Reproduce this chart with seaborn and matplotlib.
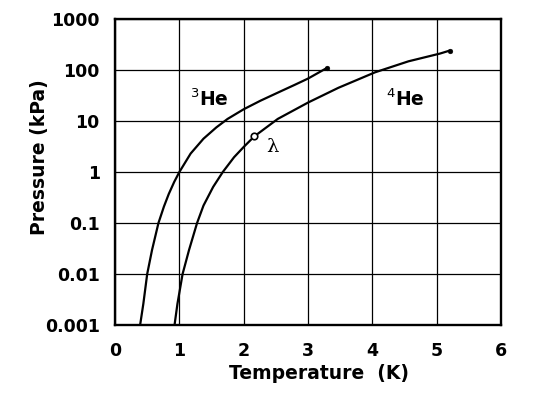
import pandas as pd
import seaborn as sns
import matplotlib.pyplot as plt

# vapour pressure curves (T in K, P in kPa)
he3_temp = [0.39, 0.44, 0.50, 0.575, 0.675, 0.76, 0.835, 0.92, 1.00, 1.175, 1.375, 1.575,
            1.75, 2.00, 2.26, 2.53, 2.79, 3.00, 3.30]
he3_press = [0.001, 0.0026, 0.01, 0.0295, 0.1, 0.21, 0.37, 0.64, 1.0, 2.3, 4.5, 7.5,
             11, 17, 25, 36, 51, 68, 111]

he4_temp = [0.925, 0.97, 1.05, 1.15, 1.275, 1.375, 1.525, 1.675, 1.85, 2.00, 2.165,
            2.53, 3.00, 3.47, 4.04, 4.56, 5.05, 5.20]
he4_press = [0.001, 0.0026, 0.01, 0.0295, 0.1, 0.22, 0.51, 1.0, 1.95, 3.1, 5.0,
             11, 23, 44.7, 90, 148, 210, 240]

# critical points (end dots) and lambda point
end_temp = [3.30, 5.20]
end_press = [111, 240]
lambda_temp = [2.165]
lambda_press = [5.0]

x_ticks = [0, 1, 2, 3, 4, 5, 6]
y_ticks = [0.001, 0.01, 0.1, 1, 10, 100, 1000]
y_labels = ['0.001', '0.01', '0.1', '1', '10', '100', '1000']

sns.set_style('white')
plt.rcParams['font.family'] = ['DejaVu Sans']
plt.rcParams['mathtext.fontset'] = 'dejavusans'
for key in ['text.color', 'axes.labelcolor', 'xtick.color', 'ytick.color']:
    plt.rcParams[key] = 'black'

df3 = pd.DataFrame({'T': he3_temp, 'P': he3_press})
df4 = pd.DataFrame({'T': he4_temp, 'P': he4_press})

fig = plt.figure(figsize=(5.4, 4.0), dpi=100)
ax = fig.add_axes([0.213, 0.1875, 0.715, 0.765])

sns.lineplot(data=df3, x='T', y='P', ax=ax, color='black', lw=1.6, sort=False, estimator=None)
sns.lineplot(data=df4, x='T', y='P', ax=ax, color='black', lw=1.6, sort=False, estimator=None)
sns.scatterplot(x=end_temp, y=end_press, ax=ax, color='black', s=12, edgecolor='black', zorder=5)
sns.scatterplot(x=lambda_temp, y=lambda_press, ax=ax, facecolor='white', edgecolor='black',
                s=22, linewidth=1.2, zorder=5)

ax.set_yscale('log')
ax.set_xlim(0, 6)
ax.set_ylim(0.001, 1000)
ax.set_xticks(x_ticks)
ax.set_xticklabels([str(v) for v in x_ticks])
ax.set_yticks(y_ticks)
ax.set_yticklabels(y_labels)
ax.minorticks_off()
ax.tick_params(length=0, labelsize=12.5)
ax.tick_params(axis='x', pad=12)
ax.tick_params(axis='y', pad=11)
for lab in ax.get_xticklabels() + ax.get_yticklabels():
    lab.set_fontweight('bold')

ax.grid(True, color='black', lw=0.9)
for sp in ax.spines.values():
    sp.set_color('black')
    sp.set_linewidth(1.7)
    sp.set_visible(True)

ax.set_xlabel('Temperature  (K)', fontsize=13.5, fontweight='bold')
ax.set_ylabel('Pressure (kPa)', fontsize=13.5, fontweight='bold')
ax.xaxis.set_label_coords(0.528, -0.128)
ax.yaxis.set_label_coords(-0.172, 0.55)

ax.text(1.16, 20, r'$^{3}$He', fontsize=13.5, fontweight='bold', va='baseline')
ax.text(4.21, 20, r'$^{4}$He', fontsize=13.5, fontweight='bold', va='baseline')
ax.text(2.35, 2.5, 'λ', fontsize=14, va='baseline', family=['DejaVu Serif'])

plt.savefig('out.png', dpi=100)
